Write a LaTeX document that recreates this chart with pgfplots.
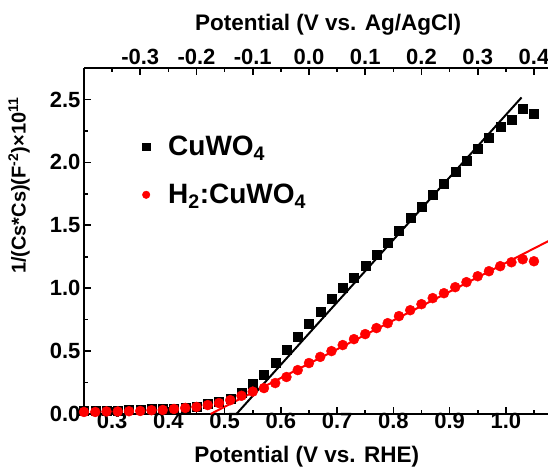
\documentclass[border=0pt]{standalone}
\usepackage{fontspec}
\setmainfont{Liberation Sans}
\usepackage{pgfplots}
\usepackage{pgfplotstable}
\pgfplotsset{compat=1.18}

% CuWO4 (black squares)
\pgfplotstableread{
x y
0.25 0.03
0.27 0.03
0.29 0.03
0.31 0.03
0.33 0.035
0.35 0.035
0.37 0.04
0.39 0.04
0.41 0.045
0.43 0.05
0.45 0.06
0.47 0.085
0.49 0.10
0.51 0.125
0.53 0.17
0.55 0.238
0.57 0.315
0.59 0.405
0.61 0.51
0.63 0.611
0.65 0.718
0.67 0.817
0.69 0.913
0.71 1.0
0.73 1.087
0.75 1.18
0.77 1.27
0.79 1.365
0.81 1.46
0.83 1.563
0.85 1.651
0.87 1.746
0.89 1.833
0.91 1.929
0.93 2.016
0.95 2.111
0.97 2.198
0.99 2.286
1.01 2.341
1.03 2.429
1.05 2.389
}\cuwo

% H2:CuWO4 (red dots)
\pgfplotstableread{
x y
0.25 0.016
0.27 0.016
0.29 0.02
0.31 0.02
0.33 0.022
0.35 0.024
0.37 0.03
0.39 0.032
0.41 0.04
0.43 0.048
0.45 0.056
0.47 0.071
0.49 0.087
0.51 0.11
0.53 0.145
0.55 0.178
0.57 0.206
0.59 0.246
0.61 0.294
0.63 0.349
0.65 0.405
0.67 0.454
0.69 0.5
0.71 0.548
0.73 0.595
0.75 0.635
0.77 0.683
0.79 0.722
0.81 0.778
0.83 0.825
0.85 0.873
0.87 0.921
0.89 0.96
0.91 1.008
0.93 1.048
0.95 1.095
0.97 1.135
0.99 1.175
1.01 1.206
1.03 1.23
1.05 1.214
}\hcuwo

\pgfplotsset{
  common/.style={
    scale only axis, width=464pt, height=346pt,
    xmin=0.25, xmax=1.075, ymin=0, ymax=2.75,
    tick align=inside,
    major tick length=7pt, minor tick length=4pt,
    axis line style={line width=2pt},
    every tick/.style={black, line width=1.6pt},
    every minor tick/.style={black, line width=1.6pt},
    tick label style={font=\fontsize{22}{24}\selectfont\bfseries},
    label style={font=\fontsize{22.5}{26}\selectfont\bfseries},
    /pgf/number format/assume math mode=true,
  },
  % legend swatch: one small mark, with an empty box around it for the gap
  swatch/.style={legend image code/.code={%
    \path[draw=none, fill=none] (0pt,-2pt) rectangle (40pt,2pt);
    \draw[##1, mark size=3.8pt, only marks] plot coordinates {(20pt,0pt)};}},
}

\begin{document}
\begin{tikzpicture}
\begin{axis}[common, name=main,
  axis y line*=left,
  xtick pos=left,
  xtick={0.3,0.4,0.5,0.6,0.7,0.8,0.9,1.0},
  minor xtick={0.25,0.35,0.45,0.55,0.65,0.75,0.85,0.95,1.05},
  ytick={0,0.5,1.0,1.5,2.0,2.5},
  minor ytick={0.25,0.75,1.25,1.75,2.25},
  xticklabel style={yshift=4pt, /pgf/number format/.cd, fixed, fixed zerofill, precision=1},
  yticklabel style={/pgf/number format/.cd, fixed, fixed zerofill, precision=1},
  xlabel={Potential (V vs. RHE)},
  xlabel style={at={(axis description cs:0.48,0)}, anchor=center, yshift=-43pt},
  ylabel={1/(Cs*Cs)(F\textsuperscript{-2})×10\textsuperscript{11}},
  ylabel style={font=\fontsize{20}{24}\selectfont\bfseries, at={(axis description cs:-0.14,0.66)}, anchor=center},
  legend style={draw=none, fill=none, at={(axis description cs:0.084,0.815)}, anchor=north west,
    font=\fontsize{28}{34}\selectfont\bfseries, row sep=23pt},
  legend cell align=left,
]
\addplot[only marks, mark=square*, mark size=4.5pt, black, swatch] table {\cuwo};
\addlegendentry{CuWO\textsubscript{4}}
\addplot[only marks, mark=*, mark size=5pt, red, swatch] table {\hcuwo};
\addlegendentry{H\textsubscript{2}:CuWO\textsubscript{4}}
\addplot[red, line width=2pt, forget plot] coordinates {(0.475,0) (1.1,1.43)};
\addplot[black, line width=2pt, forget plot] coordinates {(0.521,0) (1.028,2.516)};
\end{axis}

\begin{axis}[common,
  axis x line*=top, axis y line=none,
  xtick={0.35,0.45,0.55,0.65,0.75,0.85,0.95,1.05},
  xticklabels={-0.3,-0.2,-0.1,0.0,0.1,0.2,0.3,0.4},
  minor xtick={0.30,0.40,0.50,0.60,0.70,0.80,0.90,1.00},
  xlabel={Potential (V vs. Ag/AgCl)},
  xlabel style={at={(axis description cs:0.526,1)}, anchor=center, yshift=43pt},
]
\end{axis}

\pgfresetboundingbox
\path[use as bounding box] ([xshift=-84pt,yshift=-54pt]main.south west) rectangle ([yshift=68pt]main.north east);
\end{tikzpicture}
\end{document}
